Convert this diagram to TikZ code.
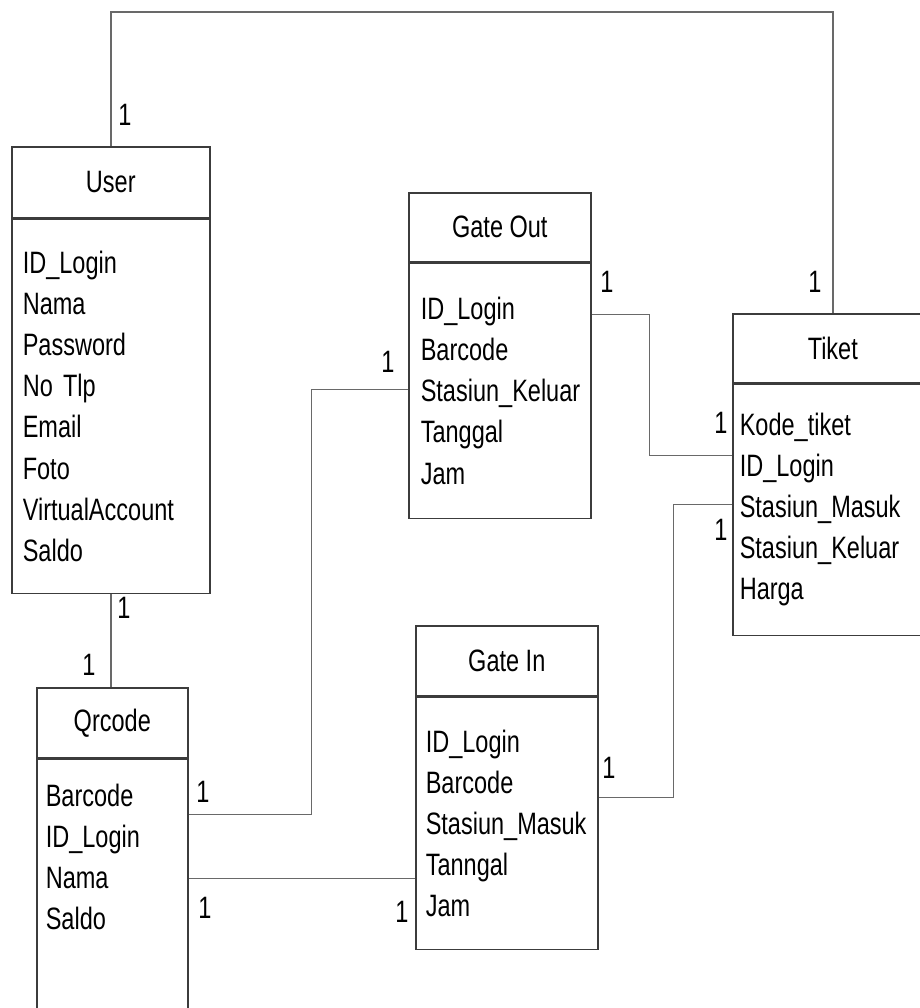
\documentclass[tikz,border=0pt]{standalone}
\usepackage{fontspec}
\setmainfont[FakeStretch=0.76]{Liberation Sans}
\usepackage{tikz}
\usetikzlibrary{positioning, calc}
\definecolor{boxline}{RGB}{60,60,60}
\definecolor{relline}{RGB}{105,105,105}
\newcommand{\erfont}{\fontsize{22}{29.2}\selectfont}
\tikzset{
  enthead/.style={rectangle, draw=boxline, line width=1.1pt,
    anchor=north west, inner sep=0pt, font=\erfont},
  entbody/.style={rectangle, draw=boxline, line width=1.1pt,
    align=left, inner ysep=0pt, font=\erfont},
  rel/.style={draw=relline, line width=1pt},
  card/.style={font=\erfont, inner sep=0pt}
}
\begin{document}
\begin{tikzpicture}[x=0.025cm, y=-0.025cm]
  \useasboundingbox (0,0) rectangle (920,1008);
  \clip (0,0) rectangle (920,1008);

  % User
  \node[enthead, minimum width=4.95cm, minimum height=1.775cm] (user) at (11,146) {User};
  \node[entbody, below=0pt of user, minimum width=4.95cm, minimum height=9.35cm,
    inner xsep=0.275cm, text width=4.4cm] (userbody)
    {ID\_Login\\Nama\\Password\\No Tlp\\Email\\Foto\\VirtualAccount\\Saldo};

  % Gate Out
  \node[enthead, minimum width=4.55cm, minimum height=1.725cm] (gateout) at (408,192) {Gate Out};
  \node[entbody, below=0pt of gateout, minimum width=4.55cm, minimum height=6.375cm,
    inner xsep=0.3cm, text width=3.95cm] (gateoutbody)
    {ID\_Login\\Barcode\\Stasiun\_Keluar\\Tanggal\\Jam};

  % Tiket
  \node[enthead, minimum width=5cm, minimum height=1.725cm] (tiket) at (732,313) {Tiket};
  \node[entbody, below=0pt of tiket, minimum width=5cm, minimum height=6.275cm,
    inner xsep=0.175cm, text width=4.65cm] (tiketbody)
    {Kode\_tiket\\ID\_Login\\Stasiun\_Masuk\\Stasiun\_Keluar\\Harga};

  % Gate In
  \node[enthead, minimum width=4.55cm, minimum height=1.75cm] (gatein) at (415,625) {Gate In};
  \node[entbody, below=0pt of gatein, minimum width=4.55cm, minimum height=6.3cm,
    inner xsep=0.25cm, text width=4.05cm] (gateinbody)
    {ID\_Login\\Barcode\\Stasiun\_Masuk\\Tanngal\\Jam};

  % Qrcode (runs off the page)
  \node[enthead, minimum width=3.775cm, minimum height=1.75cm] (qrcode) at (36,687) {Qrcode};
  \node[entbody, below=0pt of qrcode, minimum width=3.775cm,
    inner xsep=0.225cm, inner ysep=0.61cm, text width=3.325cm, text depth=9cm] (qrcodebody)
    {Barcode\\ID\_Login\\Nama\\Saldo};

  % relations
  \draw[rel] (user.north) -- ++(0,-134) -| (tiket.north);
  \draw[rel] (userbody.south) -- (userbody.south |- qrcode.north);
  \draw[rel] ($(qrcodebody.north east)+(0,56)$) -- ++(123,0) |- ($(gateoutbody.north west)+(0,127)$);
  \draw[rel] ($(qrcodebody.north east)+(0,120)$) -- ($(gateinbody.north west)+(0,182)$);
  \draw[rel] ($(gateoutbody.north east)+(0,52)$) -- ++(58,0) |- ($(tiketbody.north west)+(0,72)$);
  \draw[rel] ($(gateinbody.north east)+(0,101)$) -- ++(75,0) |- ($(tiketbody.north west)+(0,121)$);

  % cardinalities
  \node[card] (c1) at (125,115) {1};
  \node[card] (c2) at (815,282) {1};
  \node[card] (c3) at (124,608) {1};
  \node[card] (c4) at (89,665) {1};
  \node[card] (c5) at (203,792) {1};
  \node[card] (c6) at (388,362) {1};
  \node[card] (c7) at (607,282) {1};
  \node[card] (c8) at (721,423) {1};
  \node[card] (c9) at (721,530) {1};
  \node[card] (c10) at (609,768) {1};
  \node[card] (c11) at (205,908) {1};
  \node[card] (c12) at (402,912) {1};
\end{tikzpicture}
\end{document}
